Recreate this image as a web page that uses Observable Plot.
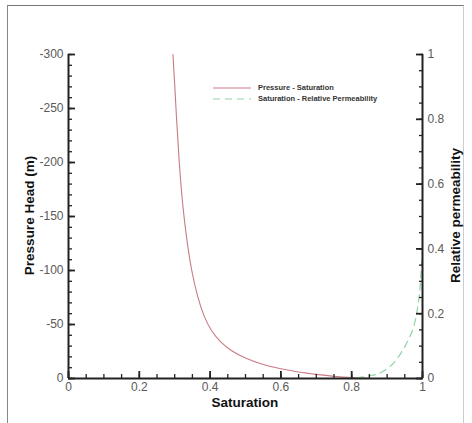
<!DOCTYPE html>
<html>
<head>
<meta charset="utf-8">
<script src="https://cdn.jsdelivr.net/npm/d3@7"></script>
<script src="https://cdn.jsdelivr.net/npm/@observablehq/plot@0.6"></script>
<style>
  html, body { margin: 0; padding: 0; background: #fff; }
  #wrap { position: relative; width: 472px; height: 423px; overflow: hidden; font-family: "Liberation Sans", Arial, sans-serif; }
  #frame { position: absolute; left: 7px; top: 5px; width: 455px; height: 430px; border-top: 1.5px solid #777; border-left: 1.5px solid #888; border-right: 1px solid #ccc; }
  #chart { position: absolute; left: 0; top: 0; }
  #chart svg text { fill: #5a5a5a; }
  .legend { position: absolute; left: 213px; top: 82px; font: bold 7.5px "Liberation Sans", Arial, sans-serif; color: #333; }
  .legend .row { display: flex; align-items: center; height: 11px; }
  .legend svg { margin-right: 7px; }
  .ttl { position: absolute; font: bold 13.5px "Liberation Sans", Arial, sans-serif; color: #111; white-space: nowrap; }
</style>
</head>
<body>
<div id="wrap">
  <div id="frame"></div>
  <div id="chart"></div>
</div>
<script>
// Pressure - Saturation curve (saturation, pressure head in m)
const psSaturation = [0.295, 0.300, 0.305, 0.311, 0.318, 0.327, 0.338, 0.350, 0.365, 0.383, 0.405, 0.430, 0.460, 0.500, 0.550, 0.600, 0.650, 0.700, 0.750, 0.800, 0.850];
const psHead       = [-300, -272, -242, -210, -178, -148, -120, -97, -76, -58, -44, -34, -26, -19, -13, -9, -6, -3.8, -2, -0.8, -0.2];

// Saturation - Relative Permeability curve
const krSaturation = [0.78, 0.82, 0.85, 0.88, 0.90, 0.92, 0.94, 0.96, 0.975, 0.985, 0.993, 1.0];
const krValue      = [0.0, 0.003, 0.008, 0.017, 0.03, 0.05, 0.08, 0.12, 0.16, 0.21, 0.28, 0.40];

// Axis ticks
const xMajor = [0, 0.2, 0.4, 0.6, 0.8, 1];
const xLabels = ["0", "0.2", "0.4", "0.6", "0.8", "1"];
const xMinor = d3.range(0, 21).map(i => i / 20);
const yMajor = [-300, -250, -200, -150, -100, -50, 0];
const yLabels = ["-300", "-250", "-200", "-150", "-100", "-50", "0"];
const yMinor = d3.range(0, 31).map(i => -i * 10);
const kMajor = [0, 0.2, 0.4, 0.6, 0.8, 1];
const kLabels = ["0", "0.2", "0.4", "0.6", "0.8", "1"];
const kMinor = d3.range(0, 21).map(i => i / 20);

const HEAD_MAX = 300; // right axis maps kr 0..1 onto head 0..-300

const ps = psSaturation.map((s, i) => ({s, h: psHead[i]}));
const kr = krSaturation.map((s, i) => ({s, h: -krValue[i] * HEAD_MAX}));

const axisColor = "#222";
const plot = Plot.plot({
  width: 472,
  height: 423,
  marginLeft: 68,
  marginRight: 50,
  marginTop: 54,
  marginBottom: 45,
  style: {fontFamily: "Liberation Sans, Arial, sans-serif", fontSize: "12px", color: axisColor, background: "transparent"},
  x: {domain: [0, 1]},
  y: {domain: [0, -HEAD_MAX]},
  marks: [
    Plot.line(ps, {x: "s", y: "h", stroke: "#c97a84", strokeWidth: 1.1, curve: "natural"}),
    Plot.line(kr, {x: "s", y: "h", stroke: "#8fd3a3", strokeWidth: 1.2, strokeDasharray: "7,5", curve: "monotone-x"}),
    // minor ticks
    Plot.axisX({anchor: "bottom", ticks: xMinor, tickSize: -4, tickFormat: () => "", label: null, strokeWidth: 1.3}),
    Plot.axisY({anchor: "left", ticks: yMinor, tickSize: -4, tickFormat: () => "", label: null, strokeWidth: 1.3}),
    Plot.axisY({anchor: "right", ticks: kMinor.map(k => -k * HEAD_MAX), tickSize: -4, tickFormat: () => "", label: null, strokeWidth: 1.3}),
    // major ticks
    Plot.axisX({anchor: "bottom", ticks: xMajor, tickSize: -7, tickPadding: 11, tickFormat: d => xLabels[xMajor.indexOf(d)], label: null, strokeWidth: 1.8}),
    Plot.axisY({anchor: "left", ticks: yMajor, tickSize: -7, tickPadding: 12, tickFormat: d => yLabels[yMajor.indexOf(d)], label: null, strokeWidth: 1.8}),
    Plot.axisY({anchor: "right", ticks: kMajor.map(k => -k * HEAD_MAX), tickSize: -7, tickPadding: 12,
      tickFormat: d => kLabels[kMajor.findIndex(k => Math.abs(-k * HEAD_MAX - d) < 1e-6)], label: null, strokeWidth: 1.8}),
    // axis lines
    Plot.ruleX([0], {stroke: axisColor, strokeWidth: 2}),
    Plot.ruleX([1], {stroke: axisColor, strokeWidth: 2}),
    Plot.ruleY([0], {stroke: axisColor, strokeWidth: 2})
  ]
});
document.getElementById("chart").appendChild(plot);

// Axis titles and legend
const wrap = document.getElementById("wrap");
function title(text, left, top, rot) {
  const el = document.createElement("div");
  el.className = "ttl";
  el.textContent = text;
  wrap.appendChild(el);
  const w = el.offsetWidth, h = el.offsetHeight;
  el.style.left = (left - w / 2) + "px";
  el.style.top = (top - h / 2) + "px";
  if (rot) el.style.transform = `rotate(${rot}deg)`;
}
title("Saturation", 245, 402, 0);
title("Pressure Head (m)", 29, 215, -90);
title("Relative permeability", 455, 215, -90);

const legendItems = [
  {label: "Pressure - Saturation", color: "#c97a84", dash: null},
  {label: "Saturation - Relative Permeability", color: "#8fd3a3", dash: "7,5"}
];
const lg = document.createElement("div");
lg.className = "legend";
legendItems.forEach(it => {
  const row = document.createElement("div");
  row.className = "row";
  row.innerHTML = `<svg width="38" height="4"><line x1="0" y1="2" x2="38" y2="2" stroke="${it.color}" stroke-width="1.2" ${it.dash ? `stroke-dasharray="${it.dash}"` : ""}/></svg><span>${it.label}</span>`;
  lg.appendChild(row);
});
wrap.appendChild(lg);
</script>
</body>
</html>
